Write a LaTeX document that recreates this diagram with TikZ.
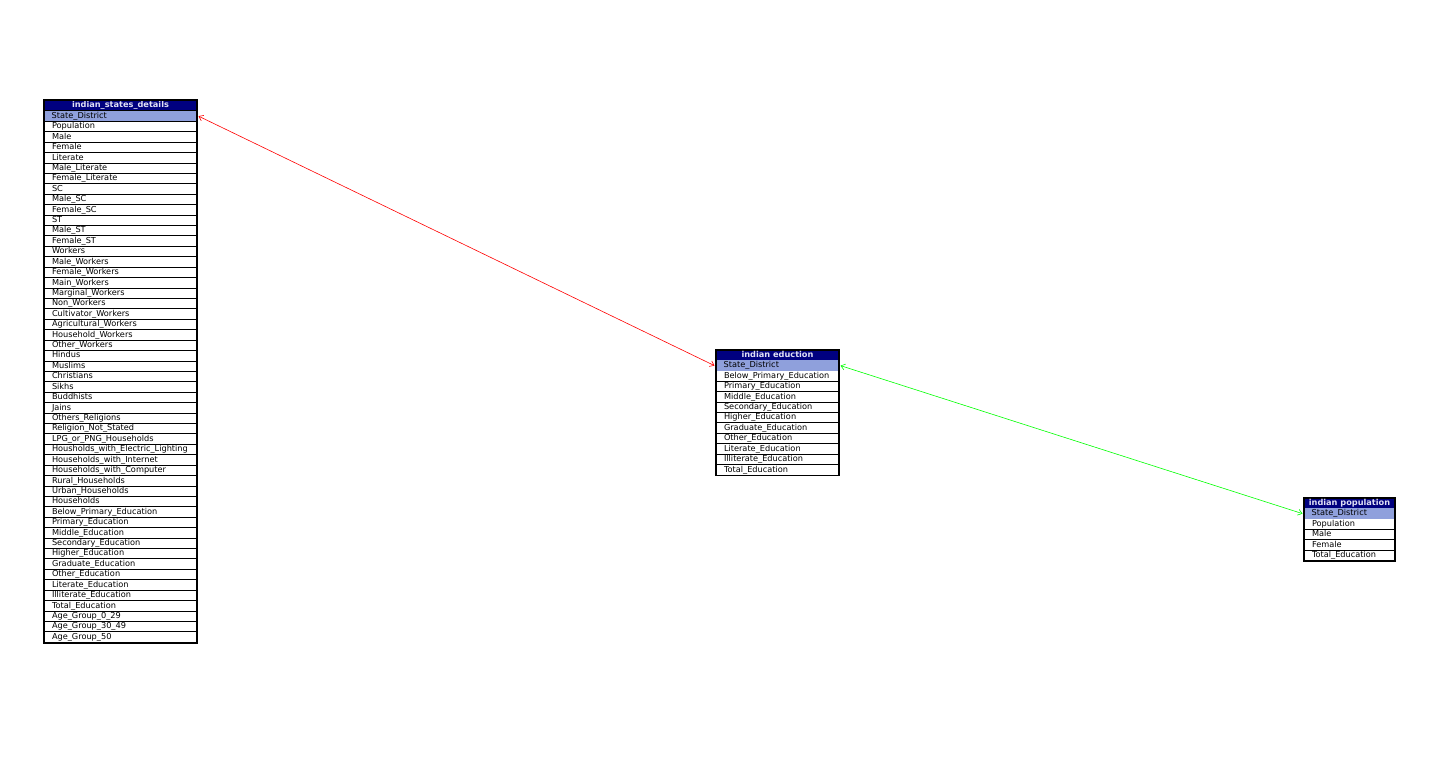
\documentclass[tikz,border=0pt]{standalone}
\usepackage{fontspec}
\setmainfont{DejaVu Sans}
\usetikzlibrary{arrows.meta}

\definecolor{headnavy}{RGB}{0,0,128}
\definecolor{headtext}{RGB}{225,225,245}
\definecolor{keyrow}{RGB}{143,160,220}

\tikzset{
  tblhead/.style={draw=black, line width=1pt, fill=headnavy, text=headtext,
    font=\bfseries\fontsize{8.2}{9}\selectfont, minimum height=10.42pt,
    text height=6pt, text depth=1.6pt,
    minimum width=#1, inner sep=0pt, anchor=north west},
  tblrow/.style={draw=black, line width=1pt, fill=white,
    font=\fontsize{8.2}{9}\selectfont, minimum height=10.42pt,
    text height=6pt, text depth=1.6pt,
    text width=#1, inner xsep=7.5pt, inner ysep=0pt, align=left, anchor=north west},
  keytext/.style={font=\fontsize{8.2}{9}\selectfont, text height=6pt, text depth=1.6pt,
    anchor=west, inner sep=0pt},
  frame/.style={draw=black, line width=1.4pt},
  link/.style={line width=0.6pt, {Straight Barb[length=4pt,width=6pt]}-{Straight Barb[length=4pt,width=6pt]}}
}

\begin{document}
\begin{tikzpicture}[x=1pt,y=-1pt]
  \useasboundingbox (0,0) rectangle (1437,764);

  % indian_states_details
  \node[tblhead=152pt] (det-0) at (44,100) {indian\_states\_details};
  \foreach \f [count=\i] in {State\_District, Population, Male, Female, Literate,
      Male\_Literate, Female\_Literate, SC, Male\_SC, Female\_SC, ST, Male\_ST,
      Female\_ST, Workers, Male\_Workers, Female\_Workers, Main\_Workers,
      Marginal\_Workers, Non\_Workers, Cultivator\_Workers, Agricultural\_Workers,
      Household\_Workers, Other\_Workers, Hindus, Muslims, Christians, Sikhs,
      Buddhists, Jains, Others\_Religions, Religion\_Not\_Stated,
      LPG\_or\_PNG\_Households, Housholds\_with\_Electric\_Lighting,
      Households\_with\_Internet, Households\_with\_Computer, Rural\_Households,
      Urban\_Households, Households, Below\_Primary\_Education, Primary\_Education,
      Middle\_Education, Secondary\_Education, Higher\_Education,
      Graduate\_Education, Other\_Education, Literate\_Education,
      Illiterate\_Education, Total\_Education, Age\_Group\_0\_29,
      Age\_Group\_30\_49, Age\_Group\_50}
    \node[tblrow=137pt] (det-\i) at (44,{100+\i*10.42}) {\f};
  \fill[keyrow] ([shift={(0.5,0.5)}]det-1.north west) rectangle ([shift={(-0.5,-0.5)}]det-1.south east);
  \node[keytext] at ([xshift=7.5pt]det-1.west) {State\_District};
  \draw[frame] (det-0.north west) rectangle (det-51.south east);

  % indian eduction
  \node[tblhead=122pt] (edu-0) at (716,349.5) {indian eduction};
  \foreach \f [count=\i] in {State\_District, Below\_Primary\_Education,
      Primary\_Education, Middle\_Education, Secondary\_Education,
      Higher\_Education, Graduate\_Education, Other\_Education,
      Literate\_Education, Illiterate\_Education, Total\_Education}
    \node[tblrow=107pt] (edu-\i) at (716,{349.5+\i*10.42}) {\f};
  \fill[keyrow] ([shift={(0.5,0.5)}]edu-1.north west) rectangle ([shift={(-0.5,-0.5)}]edu-1.south east);
  \node[keytext] at ([xshift=7.5pt]edu-1.west) {State\_District};
  \draw[frame] (edu-0.north west) rectangle (edu-11.south east);

  % indian population
  \node[tblhead=90pt] (pop-0) at (1304,497.5) {indian population};
  \foreach \f [count=\i] in {State\_District, Population, Male, Female, Total\_Education}
    \node[tblrow=75pt] (pop-\i) at (1304,{497.5+\i*10.42}) {\f};
  \fill[keyrow] ([shift={(0.5,0.5)}]pop-1.north west) rectangle ([shift={(-0.5,-0.5)}]pop-1.south east);
  \node[keytext] at ([xshift=7.5pt]pop-1.west) {State\_District};
  \draw[frame] (pop-0.north west) rectangle (pop-5.south east);

  % links
  \draw[link, red] ([xshift=1.5pt]det-1.east) -- ([xshift=-1.5pt]edu-1.west);
  \draw[link, green] ([xshift=1.5pt]edu-1.east) -- ([xshift=-1.5pt]pop-1.west);
\end{tikzpicture}
\end{document}
